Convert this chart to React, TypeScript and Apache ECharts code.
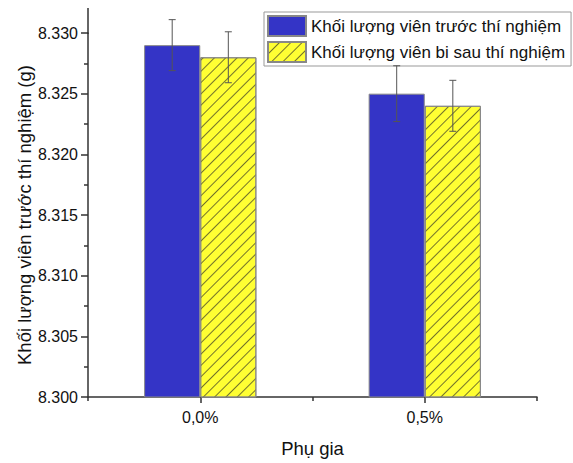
import React, { useEffect, useRef } from "react";
import * as echarts from "echarts";

const categories = ["0,0%", "0,5%"];
const seriesNames = ["Khối lượng viên trước thí nghiệm", "Khối lượng viên bi sau thí nghiệm"];
const beforeValues = [8.329, 8.325];
const beforeErrors = [0.0021, 0.0023];
const afterValues = [8.328, 8.324];
const afterErrors = [0.0021, 0.0021];
const yTicks = { min: 8.3, max: 8.33, interval: 0.005 };

const FONT = "'Liberation Sans', Arial, sans-serif";
const BLUE = "#3434c6";
const YELLOW = "#ffff33";
const BAR_FRAC = 0.25;

function errorSeries(values: number[], errors: number[], side: number) {
  return {
    type: "custom",
    xAxisIndex: 0,
    yAxisIndex: 0,
    z: 10,
    silent: true,
    clip: false,
    data: values.map((v, i) => [i, v, errors[i]]),
    renderItem: (params: any, api: any) => {
      const cat = api.value(0);
      const v = api.value(1);
      const e = api.value(2);
      const band = api.size([1, 0])[0];
      const bw = band * BAR_FRAC;
      const off = (side * bw) / 2;
      const hi = api.coord([cat, v + e]);
      const lo = api.coord([cat, v - e]);
      const x = hi[0] + off;
      const cap = 3.5;
      const style = { stroke: "#555", lineWidth: 1 };
      return {
        type: "group",
        children: [
          { type: "line", shape: { x1: x, y1: hi[1], x2: x, y2: lo[1] }, style },
          { type: "line", shape: { x1: x - cap, y1: hi[1], x2: x + cap, y2: hi[1] }, style },
          { type: "line", shape: { x1: x - cap, y1: lo[1], x2: x + cap, y2: lo[1] }, style },
        ],
      };
    },
  };
}

export default function App() {
  const ref = useRef<HTMLDivElement>(null);
  useEffect(() => {
    if (!ref.current) return;
    const chart = echarts.init(ref.current, null, { renderer: "svg" });
    chart.setOption({
      animation: false,
      backgroundColor: "#fff",
      textStyle: { fontFamily: FONT },
      grid: { left: 88, right: 36, top: 33, bottom: 64 },
      legend: {
        left: 264,
        top: 12,
        orient: "vertical",
        itemWidth: 38,
        itemHeight: 20,
        itemGap: 4,
        padding: [3, 6, 3, 3],
        borderColor: "#999",
        borderWidth: 1,
        backgroundColor: "#fff",
        icon: "rect",
        textStyle: { fontFamily: FONT, fontSize: 17, color: "#111", padding: [0, 0, 0, 0] },
        data: seriesNames,
      },
      xAxis: [
        {
          type: "category",
          data: categories,
          position: "bottom",
          boundaryGap: true,
          axisLine: { show: true, lineStyle: { color: "#333", width: 1.5 } },
          axisTick: { show: true, interval: 0, length: 4, lineStyle: { color: "#333", width: 1.5 } },
          axisLabel: { fontFamily: FONT, fontSize: 16, color: "#111", margin: 12 },
          name: "Phụ gia",
          nameLocation: "middle",
          nameGap: 42,
          nameMoveOverlap: false,
          nameTextStyle: { fontFamily: FONT, fontSize: 18.5, color: "#111" },
        },
        {
          type: "category",
          data: categories,
          position: "bottom",
          boundaryGap: true,
          axisLine: { show: false },
          axisTick: { show: true, alignWithLabel: true, length: 6, lineStyle: { color: "#333", width: 1.5 } },
          axisLabel: { show: false },
        },
      ],
      yAxis: {
        type: "value",
        min: yTicks.min,
        max: yTicks.max,
        interval: yTicks.interval,
        splitLine: { show: false },
        axisLine: { show: true, lineStyle: { color: "#333", width: 1.5 } },
        axisTick: { show: true, length: 7, lineStyle: { color: "#333", width: 1.5 } },
        minorTick: { show: true, splitNumber: 2, length: 4, lineStyle: { color: "#333", width: 1.5 } },
        axisLabel: {
          fontFamily: FONT,
          fontSize: 16,
          color: "#111",
          margin: 10,
          formatter: (v: number) => v.toFixed(3),
        },
        name: "Khối lượng viên trước thí nghiệm (g)",
        nameLocation: "middle",
        nameGap: 54,
        nameMoveOverlap: false,
        nameTextStyle: { fontFamily: FONT, fontSize: 18.5, color: "#111" },
      },
      graphic: [
        {
          type: "line",
          shape: { x1: 88, y1: 8, x2: 88, y2: 34 },
          style: { stroke: "#333", lineWidth: 1.5 },
        },
      ],
      series: [
        {
          name: seriesNames[0],
          type: "bar",
          data: beforeValues,
          barWidth: `${BAR_FRAC * 100}%`,
          barGap: "0%",
          itemStyle: { color: BLUE, borderColor: "#888", borderWidth: 1 },
        },
        {
          name: seriesNames[1],
          type: "bar",
          data: afterValues,
          barWidth: `${BAR_FRAC * 100}%`,
          barGap: "0%",
          itemStyle: {
            color: YELLOW,
            borderColor: "#888",
            borderWidth: 1,
            decal: {
              symbol: "rect",
              dashArrayX: [1, 0],
              dashArrayY: [1, 7],
              rotation: -Math.PI / 4,
              color: "rgba(80,80,40,0.8)",
            },
          },
        },
        errorSeries(beforeValues, beforeErrors, -1),
        errorSeries(afterValues, afterErrors, 1),
      ],
    });
    return () => chart.dispose();
  }, []);
  return <div ref={ref} style={{ width: 573, height: 463, position: "absolute", left: 0, top: 0 }} />;
}
